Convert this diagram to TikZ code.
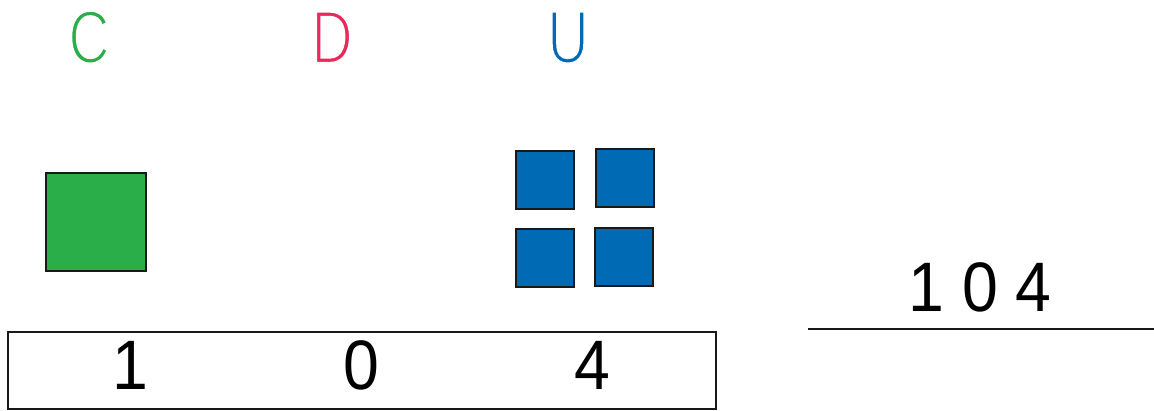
\documentclass[tikz,border=0pt]{standalone}
\usepackage{fontspec}
\setmainfont{Liberation Sans}
\usetikzlibrary{positioning}
\definecolor{cgreen}{RGB}{42,174,74}
\definecolor{dpink}{RGB}{234,40,90}
\definecolor{ublue}{RGB}{0,106,181}
% thin letters: fill, then stroke the outline in white
\newcommand\thinletter[1]{\special{pdf:literal direct q 2 Tr 2.4 w 1 1 1 RG}#1\special{pdf:literal direct Q}}
\tikzset{
  block/.style={draw=black!90, line width=2pt, inner sep=0pt, anchor=north west},
  digit/.style={anchor=base, inner sep=0pt, font=\fontsize{70}{84}\selectfont},
  head/.style={anchor=base, inner sep=0pt, font=\fontsize{75}{84}\selectfont}
}

\begin{document}
\begin{tikzpicture}[x=1pt, y=-1pt]
  \useasboundingbox (0,0) rectangle (1154,411);
  % Column headers
  \foreach \x/\lab/\col in {89/C/cgreen, 332/D/dpink, 568/U/ublue}
    \node[head, text=\col] (head\lab) at (\x,63) {\scalebox{0.76}[1]{\thinletter{\lab}}};
  % Hundreds block
  \node[block, fill=cgreen, minimum width=100pt, minimum height=98pt] (hundred) at (45,172) {};
  % Unit blocks
  \foreach \n/\x/\y in {1/515/150, 2/595/148, 3/515/228, 4/594/227}
    \node[block, fill=ublue, minimum size=58pt] (unit\n) at (\x,\y) {};
  % Place value table
  \node[draw=black!90, line width=2pt, anchor=north west, inner sep=0pt,
        minimum width=708pt, minimum height=77pt] (table) at (7,331) {};
  \foreach \x/\d in {130/1, 361/0, 592/4}
    \node[digit] (val\d) at (\x,390) {\scalebox{0.92}[1]{\d}};
  % Number on the line
  \node[digit] (total) at (980,312) {\scalebox{0.92}[1]{1 0 4}};
  \coordinate (lineL) at (808,329);
  \coordinate (lineR) at (1154,329);
  \draw[line width=2pt, black!90] (lineL) -- (lineR);
\end{tikzpicture}
\end{document}
